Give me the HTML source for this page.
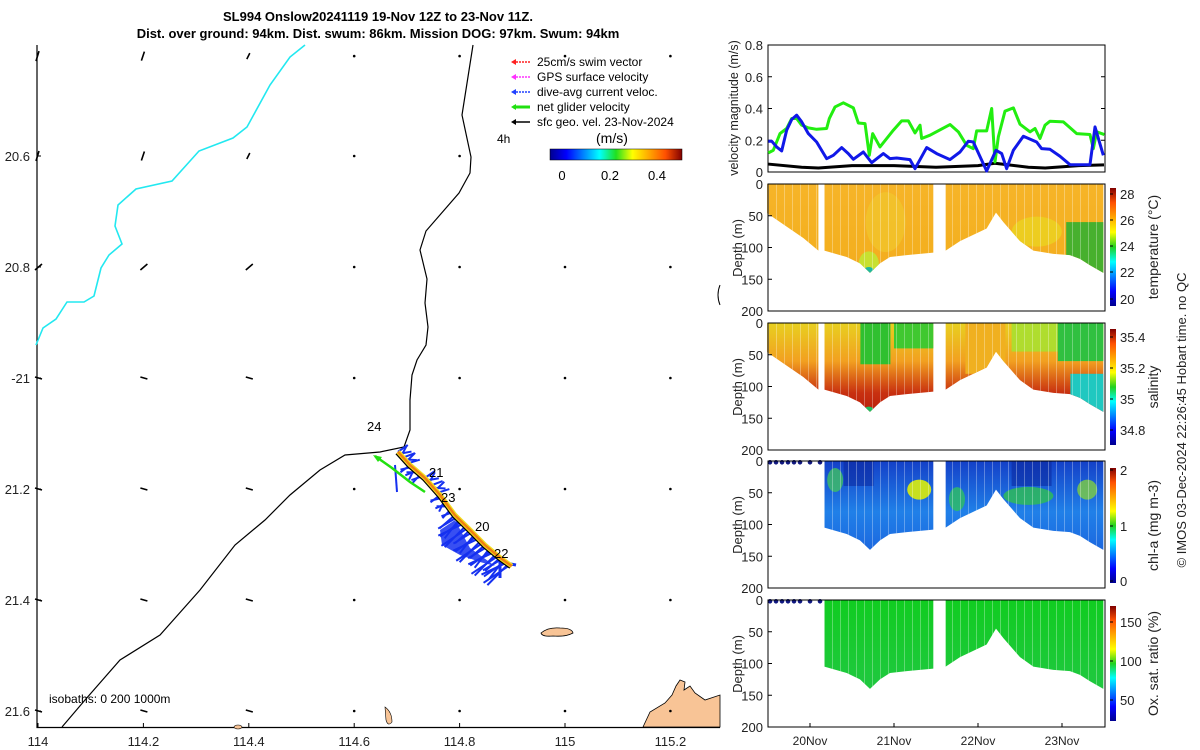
<!DOCTYPE html>
<html><head><meta charset="utf-8"><style>
html,body{margin:0;padding:0;background:#fff;}
svg{display:block;font-family:"Liberation Sans","DejaVu Sans",sans-serif;}
</style></head><body>
<svg id="fig" width="1200" height="750" viewBox="0 0 1200 750" xmlns="http://www.w3.org/2000/svg">
<defs>
<linearGradient id="jetH" x1="0" x2="1" y1="0" y2="0">
<stop offset="0" stop-color="#00008f"/><stop offset="0.125" stop-color="#0000ff"/><stop offset="0.375" stop-color="#00ffff"/><stop offset="0.5" stop-color="#20e020"/><stop offset="0.625" stop-color="#ffff00"/><stop offset="0.875" stop-color="#ff5000"/><stop offset="1" stop-color="#800000"/></linearGradient>
<linearGradient id="jetV" x1="0" x2="0" y1="1" y2="0">
<stop offset="0" stop-color="#00008f"/><stop offset="0.125" stop-color="#0000ff"/><stop offset="0.375" stop-color="#00ffff"/><stop offset="0.5" stop-color="#20d020"/><stop offset="0.625" stop-color="#ffff00"/><stop offset="0.875" stop-color="#ff5000"/><stop offset="1" stop-color="#800000"/></linearGradient>
<linearGradient id="gTemp" x1="0" x2="0" y1="0" y2="1"><stop offset="0" stop-color="#f6b428"/><stop offset="0.5" stop-color="#f4b020"/><stop offset="1" stop-color="#f0a020"/></linearGradient>
<linearGradient id="gSal" x1="0" x2="0" y1="0" y2="1"><stop offset="0" stop-color="#e8d020"/><stop offset="0.3" stop-color="#f2a020"/><stop offset="0.55" stop-color="#c83010"/><stop offset="1" stop-color="#a00000"/></linearGradient>
<linearGradient id="gChl" x1="0" x2="0" y1="0" y2="1"><stop offset="0" stop-color="#1440c8"/><stop offset="0.4" stop-color="#2080e8"/><stop offset="1" stop-color="#1850d8"/></linearGradient>
<linearGradient id="gOx" x1="0" x2="0" y1="0" y2="1"><stop offset="0" stop-color="#10cc20"/><stop offset="0.7" stop-color="#20c840"/><stop offset="1" stop-color="#20c8a0"/></linearGradient>
<pattern id="stripes" width="8" height="10" patternUnits="userSpaceOnUse"><rect x="0" y="0" width="1" height="10" fill="#fff" opacity="0.3"/></pattern>
</defs>
<g id="map"></g>
<g id="right"></g>
</svg>
<script>
// ---------- DATA ----------
const lonTicks=[114,114.2,114.4,114.6,114.8,115,115.2];
const latTicks=[20.6,20.8,21,21.2,21.4,21.6];
const latTickLabels=["20.6","20.8","-21","21.2","21.4","21.6"];
const trackLon=[114.683,114.706,114.734,114.763,114.791,114.820,114.848,114.877,114.899];
const trackLat=[21.133,21.157,21.180,21.211,21.247,21.274,21.301,21.324,21.339];
const dayLabels=["20Nov","21Nov","22Nov","23Nov"];
const dayTicks=[20,21,22,23];
const greenT=[19.504,19.563,19.643,19.722,19.782,19.841,19.901,19.980,20.079,20.198,20.230,20.298,20.397,20.516,20.575,20.655,20.706,20.746,20.833,20.992,21.091,21.171,21.250,21.310,21.329,21.429,21.667,21.766,21.865,21.944,21.984,22.103,22.163,22.202,22.242,22.321,22.421,22.500,22.619,22.679,22.738,22.798,22.857,23.016,23.175,23.333,23.373,23.413,23.504];
const greenV=[0.12,0.137,0.242,0.274,0.337,0.337,0.295,0.278,0.269,0.274,0.337,0.41,0.436,0.404,0.309,0.305,0.105,0.242,0.158,0.263,0.322,0.322,0.246,0.295,0.211,0.232,0.299,0.253,0.168,0.147,0.259,0.259,0.4,0.063,0.221,0.383,0.404,0.301,0.253,0.274,0.211,0.295,0.32,0.316,0.242,0.236,0.147,0.253,0.236];
const blueT=[19.504,19.544,19.603,19.663,19.722,19.782,19.841,19.901,19.980,20.079,20.198,20.278,20.377,20.456,20.516,20.635,20.734,20.873,20.952,21.032,21.190,21.250,21.389,21.508,21.667,21.786,21.885,21.944,22.103,22.214,22.282,22.341,22.421,22.540,22.698,22.758,22.857,22.976,23.095,23.333,23.393,23.492];
const blueV=[0.194,0.194,0.158,0.133,0.263,0.331,0.358,0.316,0.242,0.189,0.084,0.105,0.154,0.116,0.08,0.126,0.059,0.116,0.084,0.088,0.078,0.021,0.154,0.116,0.078,0.126,0.194,0.189,0.006,0.137,0.116,0.021,0.137,0.225,0.189,0.147,0.143,0.099,0.046,0.046,0.284,0.105];
const blackT=[19.5,19.9,20.1,20.5,21.0,21.5,22.0,22.2,22.6,22.8,23.2,23.5];
const blackV=[0.05,0.03,0.025,0.04,0.04,0.03,0.04,0.055,0.03,0.025,0.04,0.045];
const segA_T=[19.49,19.72,19.92,20.1];
const segA_D=[46,67,85,105];
const segB_T=[20.171,20.437,20.595,20.714,20.833,20.952,21.151,21.468];
const segB_D=[105,115,125,140,125,115,112,108];
const segC_T=[21.615,21.786,22.103,22.214,22.302,22.5,22.659,22.897,23.095,23.214,23.333,23.492];
const segC_D=[105,90,70,45,60,90,105,110,112,118,128,140];

// ---------- helpers ----------
const NS="http://www.w3.org/2000/svg";
function mk(parent,tag,attrs,text){const e=document.createElementNS(NS,tag);for(const k in attrs)e.setAttribute(k,attrs[k]);if(text!==undefined)e.textContent=text;parent.appendChild(e);return e;}
const map=document.getElementById('map');
const right=document.getElementById('right');
const lx=lon=>38+(lon-114)*527;
const ly=lat=>156+(lat-20.6)*555;

// ---------- TITLE ----------
let t1=mk(map,'text',{x:378,y:21,'text-anchor':'middle','font-size':13,'font-weight':'bold'},"SL994 Onslow20241119 19-Nov 12Z to 23-Nov 11Z.");

let t2=mk(map,'text',{x:378,y:38,'text-anchor':'middle','font-size':13,'font-weight':'bold'},"Dist. over ground: 94km. Dist. swum: 86km. Mission DOG: 97km. Swum: 94km");


// ---------- MAP ----------
let ax=mk(map,'path',{d:'M37 45 V727.5 H720',fill:'none',stroke:'#000','stroke-width':1.2});

lonTicks.forEach((lon,i)=>{const x=lx(lon);mk(map,'line',{x1:x,x2:x,y1:727,y2:723,stroke:'#000'});
 const tl=mk(map,'text',{x:x,y:746,'text-anchor':'middle','font-size':13,fill:'#222'},String(lon));
 });
latTicks.forEach((lat,i)=>{const y=ly(lat);mk(map,'line',{x1:37,x2:41,y1:y,y2:y,stroke:'#000'});
 const tl=mk(map,'text',{x:30,y:y+5,'text-anchor':'end','font-size':13,fill:'#222'},latTickLabels[i]);
 });
let cy=mk(map,'polyline',{points:'305,45 290,57 270,85 247,127 233,138 199,151 172,181 136,189 118,205 115,226 122,244 109,255 101,268 94,296 84,302 67,302 56,319 43,328 36,345',fill:'none',stroke:'#22e8f0','stroke-width':1.6});

let bk=mk(map,'polyline',{points:'473,45 462,115 471,157 470,173 459,193 426,231 420,250 427,279 425,303 428,327 426,345 417,360 412,375 410,400 410,430 404,447 380,452 345,455 320,470 290,495 265,520 235,545 200,590 160,635 120,660 85,700 62,727',fill:'none',stroke:'#000','stroke-width':1.2});

let is1=mk(map,'path',{d:'M541 633 Q548 627 560 628 Q572 628 573 633 Q566 637 553 636 Q542 637 541 633Z',fill:'#f8c496',stroke:'#000','stroke-width':0.8});

let land=mk(map,'path',{d:'M643 727 L650 712 L665 703 L672 695 L676 686 L680 680 L685 682 L684 690 L690 686 L695 693 L705 700 L720 695 L720 727Z',fill:'#f8c496',stroke:'#000','stroke-width':0.8});

mk(map,'path',{d:'M385 707 Q392 712 392 722 Q388 727 386 720 Z',fill:'#f8c496',stroke:'#000','stroke-width':0.6});
mk(map,'ellipse',{cx:238,cy:727,rx:4,ry:2,fill:'#f8c496',stroke:'#000','stroke-width':0.6});
// geostrophic arrows grid
const gridLat=[20.42,20.6,20.8,21,21.2,21.4,21.6];
gridLat.forEach(lat=>{lonTicks.forEach(lon=>{const x=lx(lon),y=ly(lat);
 let a;
 if(lat<20.7&&lon<114.5){const L=lon<114.1?10:(lon<114.3?9:6);a=mk(map,'line',{x1:x+1,y1:y-L/2,x2:x-2,y2:y+L/2,stroke:'#000','stroke-width':1.6});}
 else if(lat<20.9&&lon<114.5){a=mk(map,'line',{x1:x+4,y1:y-3,x2:x-3,y2:y+3,stroke:'#000','stroke-width':1.6});}
 else if(lat>20.9&&lon<114.5){a=mk(map,'line',{x1:x-3,y1:y-1,x2:x+4,y2:y+1,stroke:'#000','stroke-width':1.6});}
 else {a=mk(map,'circle',{cx:x,cy:y,r:1.3,fill:'#000'});}
 });});
// blue current vectors
const angles=[0.5,1.2,-0.3,0.9,1.6,0.2,1.0];
for(let i=0;i<trackLon.length-1;i++){for(let k=0;k<7;k++){const f=k/7;
 const x=lx(trackLon[i]+(trackLon[i+1]-trackLon[i])*f),y=ly(trackLat[i]+(trackLat[i+1]-trackLat[i])*f);
 const L=i>=4?(20+k*2):12; const ang=(i>=4?2.3+angles[k]*0.25:(i%2?2.2:-0.9)+angles[k]*0.6);
 const b=mk(map,'line',{x1:x,y1:y,x2:x+L*Math.cos(ang),y2:y+L*Math.sin(ang),stroke:'#1530f0','stroke-width':2});
 }}
mk(map,'path',{d:'M455 520 L440 530 L442 545 L460 555 L480 562 L495 566 L470 548 Z',fill:'#1530f0',opacity:0.85});
mk(map,'line',{x1:395,y1:465,x2:397,y2:492,stroke:'#1530f0','stroke-width':2});
mk(map,'line',{x1:500,y1:560,x2:500,y2:578,stroke:'#1530f0','stroke-width':3});
mk(map,'line',{x1:500,y1:562,x2:516,y2:565,stroke:'#1530f0','stroke-width':3});
let gn=mk(map,'polyline',{points:'375,456 392,468 410,482 425,492',fill:'none',stroke:'#22e010','stroke-width':2.5});

mk(map,'path',{d:'M373 455 L382 457 L378 462Z',fill:'#22e010'});
let tp=trackLon.map((l,i)=>lx(l)+','+ly(trackLat[i])).join(' ');
let tr1=mk(map,'polyline',{points:tp,fill:'none',stroke:'#f0e020','stroke-width':5});

mk(map,'polyline',{points:tp,fill:'none',stroke:'#f08010','stroke-width':2.5});
mk(map,'polyline',{points:trackLon.map((l,i)=>(lx(l)-2)+','+(ly(trackLat[i])+2)).join(' '),fill:'none',stroke:'#000','stroke-width':1.2});
[["24",367,431],["21",429,477],["23",441,502],["20",475,531],["22",494,558]].forEach(d=>{
 const tl=mk(map,'text',{x:d[1],y:d[2],'font-size':13},d[0]);
 });
let iso=mk(map,'text',{x:49,y:703,'font-size':12},"isobaths: 0   200  1000m");

mk(map,'path',{d:'M720 285 Q716 295 720 305',fill:'none',stroke:'#000'});
const legC=['#ff2020','#ff30ff','#2040ff','#20e010','#000'];
const legT=['25cm/s swim vector','GPS surface velocity','dive-avg current veloc.','net glider velocity','sfc geo. vel. 23-Nov-2024'];
legT.forEach((s,i)=>{const y=62+i*15;
 mk(map,'line',{x1:513,x2:530,y1:y,y2:y,stroke:legC[i],'stroke-width':i===3?3:1.5,'stroke-dasharray':i<3?'2 1':''});
 mk(map,'path',{d:`M511 ${y} L516 ${y-3} L516 ${y+3}Z`,fill:legC[i]});
 const tl=mk(map,'text',{x:537,y:y+4,'font-size':12},s);
 });
mk(map,'text',{x:497,y:143,'font-size':12},"4h");
mk(map,'text',{x:596,y:143,'font-size':14},"(m/s)");
let mcb=mk(map,'rect',{x:550,y:149,width:132,height:11,fill:'url(#jetH)',stroke:'#000','stroke-width':0.5});

[["0",562],["0.2",610],["0.4",657]].forEach(d=>mk(map,'text',{x:d[1],y:180,'text-anchor':'middle','font-size':13},d[0]));

// ---------- RIGHT PANELS ----------
const X0=768,X1=1105;
const tx=t=>X0+(t-19.5)*84;
function axisBox(y0,y1,name){const r=mk(right,'rect',{x:X0,y:y0,width:X1-X0,height:y1-y0,fill:'none',stroke:'#000','stroke-width':1});
 }
const vy=v=>172-v/0.8*127;
axisBox(45,172,'velocity-axes');
[0,0.2,0.4,0.6,0.8].forEach(v=>{const y=vy(v);mk(right,'line',{x1:X0,x2:X0+4,y1:y,y2:y,stroke:'#000'});mk(right,'line',{x1:X1,x2:X1-4,y1:y,y2:y,stroke:'#000'});
 mk(right,'text',{x:763,y:y+5,'text-anchor':'end','font-size':13,fill:'#222'},String(v));});
let vl=mk(right,'text',{transform:'translate(738,108) rotate(-90)','text-anchor':'middle','font-size':12.5,fill:'#222'},"velocity magnitude (m/s)");

function line(T,V,c,w,name){const p=mk(right,'polyline',{points:T.map((t,i)=>tx(t)+','+vy(V[i])).join(' '),fill:'none',stroke:c,'stroke-width':w,'stroke-linejoin':'round'});
 }
line(blackT,blackV,'#000',3,'geo-velocity-line');
line(greenT,greenV,'#22ee10',3,'glider-velocity-line');
line(blueT,blueV,'#1018e8',3,'current-velocity-line');

const panels=[
 {y0:184,name:'temperature',fill:'url(#gTemp)',cb:[188,306],ticks:[["28",194],["26",220],["24",246],["22",272],["20",299]],label:'temperature (°C)'},
 {y0:323,name:'salinity',fill:'url(#gSal)',cb:[329,445],ticks:[["35.4",337],["35.2",368],["35",399],["34.8",430]],label:'salinity'},
 {y0:461,name:'chlorophyll',fill:'url(#gChl)',cb:[468,583],ticks:[["2",470],["1",526],["0",581]],label:'chl-a (mg m-3)'},
 {y0:600,name:'oxygen',fill:'url(#gOx)',cb:[606,721],ticks:[["150",622],["100",661],["50",700]],label:'Ox. sat. ratio (%)'}];
panels.forEach((P,pi)=>{
 const y0=P.y0,y1=y0+127,dy=d=>y0+d/200*127;
 const g=mk(right,'g',{});
 const segs=(pi<2)?[[segA_T,segA_D],[segB_T,segB_D],[segC_T,segC_D]]:[[segB_T,segB_D],[segC_T,segC_D]];
 segs.forEach(S=>{const T=S[0],D=S[1];
  let d=`M${tx(T[0])} ${dy(0)} `+T.map((t,i)=>`L${tx(t)} ${dy(D[i])}`).join(' ')+` L${tx(T[T.length-1])} ${dy(0)} Z`;
  const cp='cp'+pi+'_'+T[0];
  const c=mk(g,'clipPath',{id:cp});mk(c,'path',{d:d});
  const gg=mk(g,'g',{'clip-path':`url(#${cp})`});
  mk(gg,'rect',{x:tx(T[0])-2,y:y0,width:tx(T[T.length-1])-tx(T[0])+4,height:127,fill:P.fill});
  if(pi===0){mk(gg,'rect',{x:tx(23.05),y:dy(60),width:60,height:70,fill:'#28b030',opacity:0.85});mk(gg,'ellipse',{cx:tx(22.7),cy:dy(75),rx:25,ry:15,fill:'#e8e020',opacity:0.6});mk(gg,'ellipse',{cx:tx(20.7),cy:dy(125),rx:10,ry:12,fill:'#c8e030'});mk(gg,'ellipse',{cx:tx(20.7),cy:dy(137),rx:5,ry:4,fill:'#20b8a0'});mk(gg,'ellipse',{cx:tx(20.9),cy:dy(60),rx:20,ry:30,fill:'#f0d030',opacity:0.5});}
  if(pi===1){mk(gg,'rect',{x:tx(20.6),y:y0,width:30,height:dy(65)-y0,fill:'#30c030'});mk(gg,'rect',{x:tx(21.0),y:y0,width:40,height:dy(40)-y0,fill:'#40c830'});mk(gg,'rect',{x:tx(22.4),y:y0,width:95,height:dy(45)-y0,fill:'#a8e030',opacity:0.9});mk(gg,'rect',{x:tx(22.95),y:y0,width:60,height:dy(60)-y0,fill:'#30c040'});mk(gg,'rect',{x:tx(23.1),y:dy(80),width:50,height:70,fill:'#20c8c0'});mk(gg,'rect',{x:tx(21.85),y:y0,width:40,height:dy(80)-y0,fill:'#f0b020'});mk(gg,'ellipse',{cx:tx(20.7),cy:dy(138),rx:5,ry:4,fill:'#20c060'});}
  if(pi===2){mk(gg,'ellipse',{cx:tx(21.3),cy:dy(45),rx:12,ry:10,fill:'#c8e020'});mk(gg,'ellipse',{cx:tx(22.6),cy:dy(55),rx:25,ry:9,fill:'#30c050',opacity:0.8});mk(gg,'ellipse',{cx:tx(20.3),cy:dy(30),rx:8,ry:12,fill:'#40c060',opacity:0.8});mk(gg,'ellipse',{cx:tx(23.3),cy:dy(45),rx:10,ry:10,fill:'#80d040',opacity:0.8});mk(gg,'ellipse',{cx:tx(21.75),cy:dy(60),rx:8,ry:12,fill:'#30c060',opacity:0.8});mk(gg,'rect',{x:tx(20.4),y:y0,width:30,height:25,fill:'#0c2aa0',opacity:0.6});mk(gg,'rect',{x:tx(22.4),y:y0,width:40,height:25,fill:'#0c2aa0',opacity:0.6});}
  mk(gg,'rect',{x:tx(T[0]),y:y0,width:tx(T[T.length-1])-tx(T[0]),height:127,fill:'url(#stripes)'});
 });
 if(pi>=2){for(let k=0;k<8;k++){mk(g,'circle',{cx:770+k*6+(k>5?(k-5)*4:0),cy:dy(2),r:2.3,fill:'#101880'});}}
 axisBox(y0,y1,P.name+'-axes');
 [0,50,100,150,200].forEach(d=>{const y=dy(d);mk(right,'line',{x1:X0,x2:X0+4,y1:y,y2:y,stroke:'#000'});
  mk(right,'text',{x:763,y:y+5,'text-anchor':'end','font-size':13,fill:'#222'},String(d));});
 const yl=mk(right,'text',{transform:`translate(742,${y0+64}) rotate(-90)`,'text-anchor':'middle','font-size':13,fill:'#222'},"Depth (m)");
 
 const cb=mk(right,'rect',{x:1110,y:P.cb[0],width:6,height:P.cb[1]-P.cb[0],fill:'url(#jetV)'});
 
 P.ticks.forEach(tk=>{mk(right,'line',{x1:1110,x2:1113,y1:tk[1],y2:tk[1],stroke:'#000'});mk(right,'text',{x:1120,y:tk[1]+5,'font-size':13,fill:'#222'},tk[0]);});
 const cl=mk(right,'text',{transform:`translate(1158,${(P.cb[0]+P.cb[1])/2}) rotate(-90)`,'text-anchor':'middle','font-size':14,fill:'#222'},P.label);
 
});
dayTicks.forEach((d,i)=>{const x=tx(d);mk(right,'line',{x1:x,x2:x,y1:727,y2:723,stroke:'#000'});
 const tl=mk(right,'text',{x:x,y:745,'text-anchor':'middle','font-size':12,fill:'#222'},dayLabels[i]);
 });
let cr=mk(right,'text',{transform:'translate(1186,420) rotate(-90)','text-anchor':'middle','font-size':13,fill:'#222'},"© IMOS 03-Dec-2024 22:26:45 Hobart time. no QC");

</script>
</body></html>
